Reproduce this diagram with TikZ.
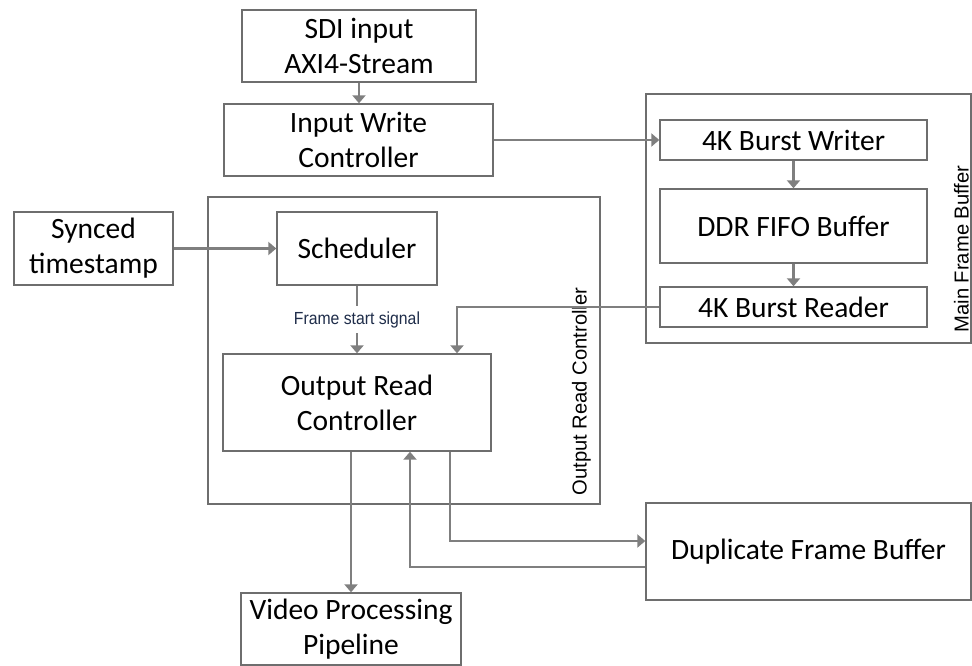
\documentclass[tikz,border=0pt]{standalone}
\usepackage{fontspec}
\setmainfont{Carlito}
\newfontfamily\arialfont{Liberation Sans}
\newfontfamily\lblfont[FakeStretch=0.9]{Liberation Sans}
\usetikzlibrary{arrows.meta,calc}
\definecolor{boxline}{HTML}{6E6E6E}
\definecolor{arrowline}{HTML}{7F7F7F}
\definecolor{lblcol}{HTML}{1F2D4A}
\begin{document}
\begin{tikzpicture}[x=1pt,y=-1pt,
  box/.style={draw=boxline, line width=1.4pt, fill=white, align=center,
    font=\fontsize{29.5}{35}\selectfont, inner sep=0pt},
  cont/.style={draw=boxline, line width=1.4pt, inner sep=0pt},
  arr/.style={draw=arrowline, line width=2.5pt, -{Triangle[length=8pt,width=13pt]}},
  side/.style={font=\arialfont\fontsize{20.2}{22}\selectfont, rotate=90, inner sep=0pt},
  lbl/.style={fill=white, text=lblcol, font=\lblfont\fontsize{17.5}{19}\selectfont, inner xsep=1pt, inner ysep=5pt}]
\useasboundingbox (0,0) rectangle (972,666);
% containers
\node[cont, minimum width=325pt, minimum height=249pt] (mfb) at (808.5,218.5) {};
\node[cont, minimum width=392pt, minimum height=307pt] (orcc) at (404,350.5) {};
\node[side] at (961.5,249) {Main Frame Buffer};
\node[side] at (581.5,391.5) {Output Read Controller};
% boxes
\node[box, minimum width=234pt, minimum height=72pt] (sdi) at (359,46) {SDI input\\AXI4-Stream};
\node[box, minimum width=269pt, minimum height=72pt] (iwc) at (358.5,140) {Input Write\\Controller};
\node[box, minimum width=267pt, minimum height=40pt] (bw) at (793.5,140) {4K Burst Writer};
\node[box, minimum width=267pt, minimum height=74pt] (ddr) at (793.5,226) {DDR FIFO Buffer};
\node[box, minimum width=267pt, minimum height=40pt] (br) at (793.5,307) {4K Burst Reader};
\node[box, minimum width=159pt, minimum height=73pt] (synced) at (93.5,248.5) {Synced\\timestamp};
\node[box, minimum width=160pt, minimum height=73pt] (sched) at (357,248.5) {Scheduler};
\node[box, minimum width=268pt, minimum height=97pt] (orc) at (357,402.5) {Output Read\\Controller};
\node[box, minimum width=325pt, minimum height=97pt] (dup) at (808.5,551.5) {Duplicate Frame Buffer};
\node[box, minimum width=220pt, minimum height=72pt] (vpp) at (351,629) {Video Processing\\Pipeline};
% connectors
\draw[arr] (sdi.south) -- (sdi.south |- iwc.north);
\draw[arr] (iwc.east) -- (bw.west);
\draw[arr] (bw.south) -- (ddr.north);
\draw[arr] (ddr.south) -- (br.north);
\draw[arr] (synced.east) -- (sched.west);
\draw[arr] (sched.south) -- node[lbl] {Frame start signal} (orc.north);
\draw[arr] (br.west) -| ($(orc.north)+(100,0)$);
\draw[arr] (vpp.north |- orc.south) -- (vpp.north);
\draw[arr] ($(orc.south)+(93,0)$) |- ($(dup.west)+(0,-10.5)$);
\draw[arr] ($(dup.west)+(0,15.5)$) -| ($(orc.south)+(53,0)$);
\end{tikzpicture}
\end{document}
